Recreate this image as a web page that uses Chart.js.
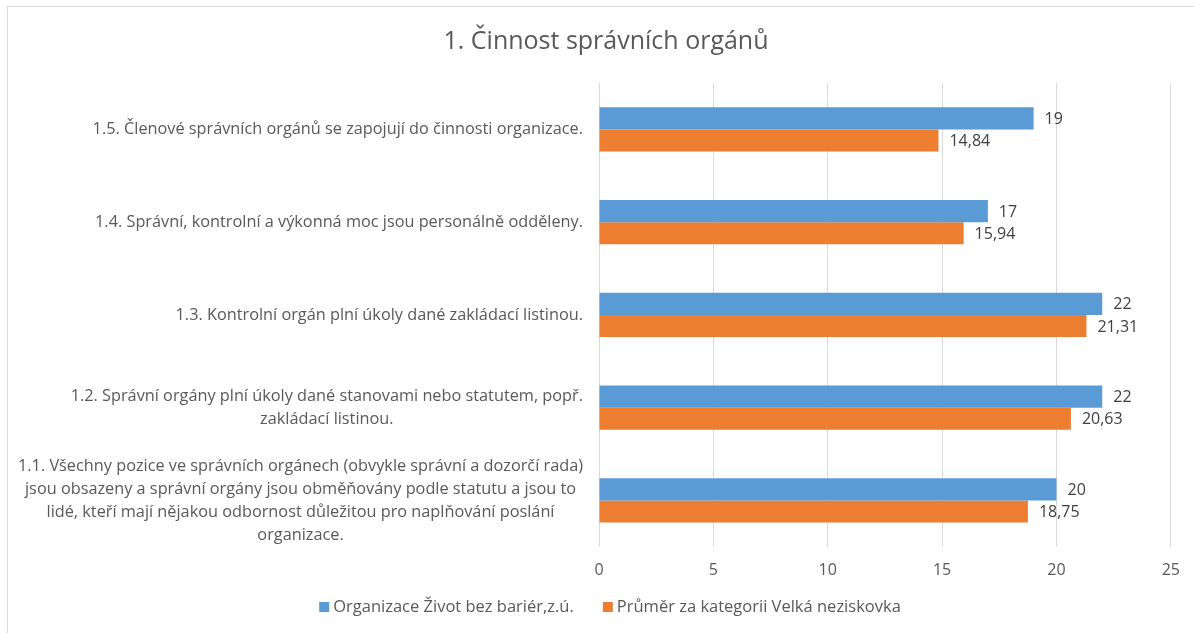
<!DOCTYPE html>
<html>
<head>
<meta charset="utf-8">
<script src="https://cdn.jsdelivr.net/npm/chart.js@4"></script>
<style>
html,body{margin:0;padding:0;background:#fff;}
#wrap{position:relative;width:1194px;height:633px;overflow:hidden;}
#frame{position:absolute;left:7px;top:6px;width:1300px;height:700px;border-left:1px solid #d9d9d9;border-top:1px solid #d9d9d9;}
canvas{position:absolute;left:0;top:0;}
</style>
</head>
<body>
<div id="wrap">
<div id="frame"></div>
<canvas id="chart" width="1194" height="633"></canvas>
</div>
<script>
// data
const categories=[
  ['1.5. Členové správních orgánů se zapojují do činnosti organizace.'],
  ['1.4. Správní, kontrolní a výkonná moc jsou personálně odděleny.'],
  ['1.3. Kontrolní orgán plní úkoly dané zakládací listinou.'],
  ['1.2. Správní orgány plní úkoly dané stanovami nebo statutem, popř.','zakládací listinou.'],
  ['1.1. Všechny pozice ve správních orgánech (obvykle správní a dozorčí rada)','jsou obsazeny a správní orgány jsou obměňovány podle statutu a jsou to','lidé, kteří mají nějakou odbornost důležitou pro naplňování poslání','organizace.']
];
const seriesNames=['Organizace Život bez bariér,z.ú.','Průměr za kategorii Velká neziskovka'];
const orgValues=[19,17,22,22,20];
const avgValues=[14.84,15.94,21.31,20.63,18.75];
const xTicks=[0,5,10,15,20,25];
const colors=['#5B9BD5','#ED7D31'];

const FONT='"Open Sans", sans-serif';
const TXT='#595959';

// category labels, lines centred on each other, block right-aligned
const catLabels={
  id:'catLabels',
  afterDraw(chart){
    const ctx=chart.ctx, y=chart.scales.y, right=chart.chartArea.left-16;
    ctx.save();
    ctx.font='16.3px '+FONT;
    ctx.fillStyle=TXT;
    ctx.textAlign='center';
    ctx.textBaseline='middle';
    categories.forEach((lines,i)=>{
      const w=Math.max(...lines.map(l=>ctx.measureText(l).width));
      const cx=right-w/2, cy=y.getPixelForTick(i), lh=23;
      lines.forEach((l,j)=>ctx.fillText(l,cx,cy+(j-(lines.length-1)/2)*lh));
    });
    ctx.restore();
  }
};

// value labels at the end of each bar
const valueLabels={
  id:'valueLabels',
  afterDatasetsDraw(chart){
    const ctx=chart.ctx;
    ctx.save();
    ctx.font='16px '+FONT;
    ctx.fillStyle='#404040';
    ctx.textAlign='left';
    ctx.textBaseline='middle';
    chart.data.datasets.forEach((ds,di)=>{
      chart.getDatasetMeta(di).data.forEach((el,i)=>{
        ctx.fillText(String(ds.data[i]).replace('.',','),el.x+11,el.y+1);
      });
    });
    ctx.restore();
  }
};

// legend at the bottom
const bottomLegend={
  id:'bottomLegend',
  afterDraw(chart){
    const ctx=chart.ctx, box=10, gap=4, between=29, cy=607;
    ctx.save();
    ctx.font='16.5px '+FONT;
    ctx.textBaseline='middle';
    ctx.textAlign='left';
    const widths=seriesNames.map(n=>ctx.measureText(n).width);
    const total=widths.reduce((a,w)=>a+box+gap+w,0)+between*(seriesNames.length-1);
    let x=610-total/2;
    seriesNames.forEach((n,i)=>{
      ctx.fillStyle=colors[i];
      ctx.fillRect(x,cy-box/2,box,box);
      ctx.fillStyle=TXT;
      ctx.fillText(n,x+box+gap,cy);
      x+=box+gap+widths[i]+between;
    });
    ctx.restore();
  }
};

new Chart(document.getElementById('chart'),{
  type:'bar',
  data:{
    labels:categories,
    datasets:[
      {label:seriesNames[0],data:orgValues,backgroundColor:colors[0]},
      {label:seriesNames[1],data:avgValues,backgroundColor:colors[1]}
    ]
  },
  options:{
    indexAxis:'y',
    responsive:false,
    animation:false,
    events:[],
    categoryPercentage:0.478,
    barPercentage:1,
    layout:{padding:{left:38,right:20,top:6,bottom:39}},
    scales:{
      x:{
        min:0,max:25,
        afterBuildTicks:s=>{s.ticks=xTicks.map(v=>({value:v}));},
        grid:{color:'#d9d9d9',drawTicks:false},
        border:{display:false},
        ticks:{color:TXT,font:{family:FONT,size:16},padding:14}
      },
      y:{
        grid:{display:false},
        border:{display:false},
        ticks:{display:false},
        afterFit:s=>{s.width=561;}
      }
    },
    plugins:{
      title:{display:true,text:'1. Činnost správních orgánů',color:TXT,font:{family:FONT,size:25,weight:'normal'},padding:{top:21,bottom:26}},
      legend:{display:false},
      tooltip:{enabled:false}
    }
  },
  plugins:[catLabels,valueLabels,bottomLegend]
});
</script>
</body>
</html>
